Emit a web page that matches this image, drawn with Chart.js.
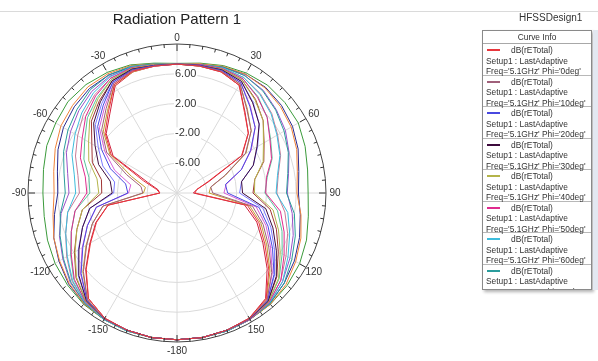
<!DOCTYPE html>
<html>
<head>
<meta charset="utf-8">
<script src="https://cdn.jsdelivr.net/npm/chart.js@4.4.1/dist/chart.umd.min.js"></script>
<style>
  body { margin: 0; background: #fff; }
  #wrap { position: relative; width: 598px; height: 361px; overflow: hidden; font-family: 'Liberation Sans', Arial, sans-serif; }
  #topline { position: absolute; left: 0; top: 11px; width: 598px; height: 1px; background: #dadada; }
  #title { position: absolute; left: 77px; width: 200px; top: 10px; text-align: center; font-size: 15px; color: #222; }
  #design { position: absolute; left: 519px; top: 12px; font-size: 10px; color: #333; }
  #polar { position: absolute; left: 0; top: 0; }
  #legend { position: absolute; left: 482px; top: 30px; width: 110px; height: 260px; border: 1px solid #8a8a8a;
            background: #fff; box-shadow: 2px 2px 3px rgba(0,0,0,0.3); overflow: hidden; font-size: 8.4px; color: #333; box-sizing: border-box; }
  #legend .hdr { height: 13px; line-height: 12px; text-align: center; border-bottom: 1px solid #a8a8a8; box-sizing: border-box; }
  #legend .entry { height: 31.5px; border-bottom: 1px solid #b8b8b8; box-sizing: border-box; padding: 1px 0 0 3px; line-height: 10.5px; white-space: nowrap; }
  #legend .row1 { display: flex; align-items: center; }
  #legend .swatch { width: 13px; height: 2px; margin: 0 11px 0 1px; }
  #scroll { position: absolute; left: 593px; top: 30px; width: 5px; height: 260px; background: #e3e8f1; }
</style>
</head>
<body>
<div id="wrap">
  <div id="topline"></div>
  <canvas id="polar" width="598" height="361"></canvas>
  <div id="title">Radiation Pattern 1</div>
  <div id="design">HFSSDesign1</div>
  <div id="legend"><div class="hdr">Curve Info</div></div>
  <div id="scroll"></div>
</div>
<script>
// theta labels, clockwise from top (10 deg step)
const thetaLabels = ['0','10','20','30','40','50','60','70','80','90','100','110','120','130','140','150','160','170',
  '-180','-170','-160','-150','-140','-130','-120','-110','-100','-90','-80','-70','-60','-50','-40','-30','-20','-10'];
const ringLabels = [-6, -2, 2, 6];

// dB(rETotal) per phi cut, theta = 0..350
const phi0   = [7.3, 7.3, 7.3, 6.7, 4.1, 2.5, 0.0, -5.6, -7.3, -7.6, -0.4, 1.7, 3.6, 6.1, 8.6, 9.4, 9.6, 9.7, 9.7, 9.7, 9.6, 9.4, 8.5, 5.9, 3.4, 1.5, -0.6, -7.7, -7.2, -5.2, 0.2, 2.6, 4.3, 6.8, 7.4, 7.3];
const phi10  = [7.3, 7.3, 7.4, 6.9, 4.6, 3.0, 0.6, -3.2, -5.4, -5.2, 0.3, 2.3, 4.2, 6.6, 8.8, 9.5, 9.6, 9.7, 9.7, 9.7, 9.6, 9.5, 8.7, 6.4, 4.0, 2.1, 0.1, -5.4, -5.1, -2.8, 0.9, 3.2, 4.8, 7.0, 7.5, 7.3];
const phi20  = [7.3, 7.4, 7.5, 7.1, 5.2, 3.7, 1.4, -0.8, -3.4, -3.2, 1.2, 3.0, 4.8, 7.0, 8.9, 9.5, 9.6, 9.7, 9.7, 9.7, 9.6, 9.5, 8.8, 6.8, 4.6, 2.8, 1.0, -3.4, -3.0, -0.5, 1.7, 3.9, 5.4, 7.2, 7.6, 7.4];
const phi30  = [7.3, 7.4, 7.6, 7.3, 5.8, 4.4, 2.4, 0.9, -1.2, -1.2, 2.1, 3.7, 5.4, 7.4, 9.0, 9.5, 9.6, 9.7, 9.7, 9.7, 9.6, 9.5, 8.9, 7.2, 5.2, 3.5, 1.9, -1.3, -0.9, 1.2, 2.7, 4.6, 6.0, 7.4, 7.7, 7.4];
const phi40  = [7.3, 7.4, 7.7, 7.5, 6.3, 5.1, 3.4, 2.3, 0.6, 0.4, 3.1, 4.5, 6.0, 7.8, 9.1, 9.5, 9.6, 9.7, 9.7, 9.7, 9.6, 9.5, 9.0, 7.6, 5.8, 4.3, 2.9, 0.5, 0.9, 2.6, 3.7, 5.3, 6.5, 7.6, 7.8, 7.5];
const phi50  = [7.3, 7.5, 7.8, 7.7, 6.8, 5.8, 4.4, 3.5, 2.2, 1.9, 4.1, 5.3, 6.6, 8.2, 9.2, 9.6, 9.6, 9.7, 9.7, 9.7, 9.6, 9.5, 9.1, 8.0, 6.4, 5.1, 3.9, 2.1, 2.5, 3.8, 4.7, 6.0, 7.0, 7.8, 7.9, 7.5];
const phi60  = [7.3, 7.5, 7.9, 7.9, 7.3, 6.5, 5.5, 4.7, 3.7, 3.3, 5.1, 6.1, 7.2, 8.5, 9.3, 9.6, 9.7, 9.7, 9.7, 9.7, 9.7, 9.6, 9.2, 8.3, 7.0, 5.9, 4.9, 3.6, 4.0, 5.0, 5.8, 6.7, 7.5, 8.0, 8.0, 7.5];
const phi70  = [7.3, 7.5, 8.0, 8.2, 7.9, 7.3, 6.6, 5.9, 5.1, 4.7, 6.0, 6.9, 7.8, 8.8, 9.4, 9.6, 9.7, 9.7, 9.7, 9.7, 9.7, 9.6, 9.3, 8.6, 7.6, 6.7, 5.9, 5.0, 5.4, 6.2, 6.9, 7.5, 8.1, 8.3, 8.1, 7.6];
const phi80  = [7.3, 7.6, 8.1, 8.4, 8.4, 8.1, 7.7, 7.1, 6.4, 6.1, 6.9, 7.7, 8.4, 9.1, 9.5, 9.6, 9.7, 9.7, 9.7, 9.7, 9.7, 9.6, 9.4, 8.9, 8.2, 7.6, 6.9, 6.5, 6.8, 7.4, 8.0, 8.3, 8.6, 8.5, 8.2, 7.6];
const phi90  = [7.4, 7.7, 8.2, 8.6, 8.9, 8.9, 8.8, 8.3, 7.8, 7.6, 7.9, 8.5, 9.0, 9.3, 9.5, 9.6, 9.7, 9.7, 9.7, 9.7, 9.7, 9.6, 9.5, 9.2, 8.9, 8.5, 8.1, 8.0, 8.2, 8.6, 8.8, 9.1, 9.0, 8.7, 8.3, 7.7];
const phi100 = [7.3, 7.5, 8.0, 8.4, 8.5, 8.3, 7.9, 7.3, 6.6, 6.3, 6.8, 7.5, 8.2, 8.8, 9.4, 9.6, 9.7, 9.7, 9.7, 9.7, 9.6, 9.6, 9.4, 9.0, 8.3, 7.6, 6.7, 6.0, 6.3, 7.0, 7.6, 8.0, 8.3, 8.3, 8.0, 7.5];
const phi110 = [7.3, 7.5, 8.0, 8.2, 8.0, 7.4, 6.8, 6.0, 5.2, 4.8, 5.7, 6.6, 7.5, 8.5, 9.3, 9.6, 9.7, 9.7, 9.7, 9.7, 9.6, 9.6, 9.3, 8.7, 7.7, 6.8, 5.8, 4.5, 4.9, 5.8, 6.5, 7.2, 7.8, 8.1, 7.9, 7.4];
const phi120 = [7.3, 7.4, 7.9, 7.9, 7.4, 6.6, 5.6, 4.8, 3.8, 3.4, 4.7, 5.8, 6.9, 8.2, 9.2, 9.6, 9.7, 9.7, 9.7, 9.7, 9.6, 9.5, 9.2, 8.4, 7.1, 5.9, 4.9, 3.1, 3.5, 4.5, 5.4, 6.4, 7.2, 7.8, 7.8, 7.4];
const phi130 = [7.3, 7.4, 7.8, 7.7, 6.9, 5.8, 4.5, 3.6, 2.3, 1.8, 3.7, 5.0, 6.3, 7.9, 9.1, 9.5, 9.6, 9.7, 9.7, 9.7, 9.6, 9.5, 9.1, 8.1, 6.5, 5.1, 3.9, 1.7, 2.0, 3.3, 4.3, 5.7, 6.7, 7.6, 7.7, 7.4];
const phi140 = [7.3, 7.4, 7.7, 7.5, 6.4, 5.1, 3.5, 2.4, 0.6, 0.2, 2.7, 4.2, 5.7, 7.5, 9.0, 9.5, 9.6, 9.7, 9.7, 9.7, 9.6, 9.5, 9.0, 7.7, 5.9, 4.3, 2.9, 0.1, 0.3, 2.1, 3.2, 5.0, 6.2, 7.4, 7.6, 7.4];
const phi150 = [7.3, 7.4, 7.6, 7.3, 5.9, 4.4, 2.5, 0.9, -1.2, -1.6, 1.7, 3.4, 5.1, 7.1, 8.9, 9.5, 9.6, 9.7, 9.7, 9.7, 9.6, 9.5, 8.9, 7.3, 5.3, 3.5, 1.9, -1.5, -1.5, 0.6, 2.2, 4.3, 5.7, 7.2, 7.5, 7.4];
const phi160 = [7.3, 7.4, 7.5, 7.1, 5.3, 3.7, 1.5, -0.8, -3.3, -3.7, 0.8, 2.7, 4.5, 6.7, 8.8, 9.5, 9.6, 9.7, 9.7, 9.7, 9.6, 9.5, 8.8, 6.9, 4.7, 2.8, 1.0, -3.5, -3.7, -1.1, 1.2, 3.6, 5.1, 7.0, 7.4, 7.3];
const phi170 = [7.3, 7.3, 7.4, 6.9, 4.7, 3.0, 0.7, -3.1, -5.4, -5.7, -0.1, 2.0, 3.9, 6.3, 8.7, 9.5, 9.6, 9.7, 9.7, 9.7, 9.6, 9.5, 8.7, 6.5, 4.1, 2.1, 0.1, -5.5, -5.7, -3.5, 0.4, 2.9, 4.5, 6.8, 7.3, 7.3];
const phi180 = [7.3, 7.3, 7.3, 6.7, 4.2, 2.5, 0.1, -5.4, -7.3, -7.8, -0.8, 1.4, 3.3, 5.8, 8.5, 9.4, 9.6, 9.7, 9.7, 9.7, 9.6, 9.4, 8.5, 6.0, 3.5, 1.6, -0.6, -7.7, -7.4, -5.8, -0.1, 2.4, 4.0, 6.6, 7.3, 7.3];

const phiNames = ['0deg','10deg','20deg','30deg','40deg','50deg','60deg','70deg','80deg','90deg',
  '100deg','110deg','120deg','130deg','140deg','150deg','160deg','170deg','180deg'];
const phiSeries = [phi0, phi10, phi20, phi30, phi40, phi50, phi60, phi70, phi80, phi90,
  phi100, phi110, phi120, phi130, phi140, phi150, phi160, phi170, phi180];
const colors = ['#e8363c','#a0607a','#4848e0','#3c0a3c','#b4b44a','#e02a8e','#3cbcdc','#2a9c9c','#f0843a','#3a9a3a',
  '#2a2a90','#9a50c8','#c87a96','#58c49a','#a03434','#7a7aff','#d860d8','#c0a030','#d0203c'];

const datasets = phiSeries.map((vals, i) => ({
  label: "dB(rETotal) Phi='" + phiNames[i] + "'",
  data: vals,
  borderColor: colors[i],
  borderWidth: 1,
  fill: false,
  pointRadius: 0
}));

// legend (Curve Info)
const legendBox = document.getElementById('legend');
phiNames.forEach((p, i) => {
  const e = document.createElement('div');
  e.className = 'entry';
  e.innerHTML = '<div class="row1"><span class="swatch" style="background:' + colors[i] + '"></span>dB(rETotal)</div>' +
    '<div>Setup1 : LastAdaptive</div>' +
    "<div>Freq='5.1GHz' Phi='" + p + "'</div>";
  legendBox.appendChild(e);
});

/* ======== polar decorations: rim ticks, angle labels, ring labels ======== */
const polarDecor = {
  id: 'polarDecor',
  beforeDatasetsDraw(chart) {
    const r = chart.scales.r;
    const c = chart.ctx;
    c.save();
    c.font = '11px "Liberation Sans", Arial, sans-serif';
    c.textBaseline = 'middle';
    c.textAlign = 'left';
    ringLabels.forEach(v => {
      const txt = v.toFixed(2);
      const y = r.yCenter - r.getDistanceFromCenterForValue(v);
      const x = r.xCenter - 2;
      const w = c.measureText(txt).width;
      c.fillStyle = '#fff';
      c.fillRect(x - 1, y - 6, w + 2, 12);
      c.fillStyle = '#333';
      c.fillText(txt, x, y);
    });
    c.restore();
  },
  afterDraw(chart) {
    const r = chart.scales.r;
    const c = chart.ctx;
    const cx = r.xCenter, cy = r.yCenter, R = r.drawingArea;
    c.save();
    c.strokeStyle = '#333';
    c.lineWidth = 1;
    for (let a = 0; a < 360; a += 5) {
      const len = a % 30 === 0 ? 7 : 3.5;
      const t = (a - 90) * Math.PI / 180;
      c.beginPath();
      c.moveTo(cx + Math.cos(t) * R, cy + Math.sin(t) * R);
      c.lineTo(cx + Math.cos(t) * (R - len), cy + Math.sin(t) * (R - len));
      c.stroke();
    }
    c.font = '10px "Liberation Sans", Arial, sans-serif';
    c.fillStyle = '#333';
    c.textAlign = 'center';
    c.textBaseline = 'middle';
    thetaLabels.forEach((lab, i) => {
      if (Number(lab) % 30 !== 0) return;
      const p = r.getPointPosition(i, R + (i === 0 ? 6 : 9));
      c.fillText(lab, p.x, p.y);
    });
    c.restore();
  }
};

new Chart(document.getElementById('polar'), {
  type: 'radar',
  data: { labels: thetaLabels, datasets: datasets },
  options: {
    responsive: false,
    animation: false,
    events: [],
    layout: { padding: { left: 28, right: 272, top: 44, bottom: 19 } },
    plugins: { legend: { display: false }, tooltip: { enabled: false } },
    elements: { line: { tension: 0 }, point: { radius: 0 } },
    scales: {
      r: {
        min: -10,
        max: 10,
        ticks: { stepSize: 4, display: false },
        pointLabels: { display: false },
        grid: {
          circular: true,
          color: ctx => ctx.tick && ctx.tick.value === 10 ? '#444' : '#dadada',
          lineWidth: 1
        },
        angleLines: {
          color: ctx => ctx.index % 3 === 0 ? '#dadada' : 'rgba(0,0,0,0)',
          lineWidth: 1
        }
      }
    }
  },
  plugins: [polarDecor]
});
</script>
</body>
</html>
